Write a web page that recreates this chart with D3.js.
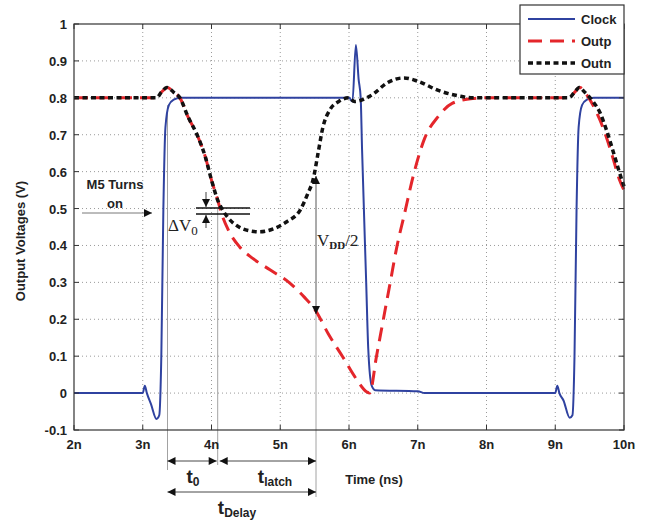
<!DOCTYPE html>
<html>
<head>
<meta charset="utf-8">
<script src="https://cdn.jsdelivr.net/npm/d3@7"></script>
<style>
  body { margin: 0; background: #fff; }
  svg { display: block; font-family: "Liberation Sans", Arial, sans-serif; }
  .grid line { stroke: #9a9a9a; stroke-dasharray: 1,3; }
  .tick-lbl { font-size: 13px; font-weight: bold; fill: #222; }
</style>
</head>
<body>
<svg id="chart" width="664" height="521"></svg>
<script>
// time in ns, voltage in V
var clockT = [2, 3.0, 3.03, 3.06, 3.12, 3.2, 3.24, 3.27, 3.3, 3.33, 3.38, 3.45, 3.55, 6.0, 6.05, 6.1, 6.14, 6.17, 6.19, 6.25, 6.28, 6.33, 6.38, 7.0, 7.1, 9.0, 9.03, 9.06, 9.12, 9.21, 9.25, 9.28, 9.31, 9.34, 9.39, 9.46, 9.56, 10];
var clockV = [0, 0, 0.02, 0.0, -0.03, -0.07, -0.06, 0.1, 0.5, 0.72, 0.78, 0.795, 0.8, 0.8, 0.79, 0.943, 0.85, 0.8, 0.66, 0.3, 0.12, 0.02, 0.008, 0.005, 0, 0, 0.02, 0.0, -0.02, -0.067, -0.06, 0.1, 0.5, 0.72, 0.78, 0.795, 0.8, 0.8];

var outpT = [2, 3.2, 3.27, 3.36, 3.45, 3.54, 3.66, 3.79, 3.91, 4.0, 4.09, 4.14, 4.25, 4.41, 4.6, 4.85, 5.14, 5.35, 5.51, 5.7, 5.91, 6.1, 6.26, 6.3, 6.4, 6.5, 6.6, 6.7, 6.8, 6.95, 7.1, 7.3, 7.5, 7.8, 8.0, 9.2, 9.28, 9.36, 9.45, 9.55, 9.65, 9.75, 9.85, 9.93, 10];
var outpV = [0.8, 0.8, 0.815, 0.828, 0.815, 0.8, 0.748, 0.7, 0.64, 0.577, 0.523, 0.49, 0.44, 0.396, 0.365, 0.334, 0.298, 0.26, 0.225, 0.16, 0.098, 0.04, 0.003, 0, 0.1, 0.2, 0.3, 0.4, 0.48, 0.6, 0.69, 0.75, 0.785, 0.798, 0.8, 0.8, 0.815, 0.828, 0.81, 0.78, 0.74, 0.69, 0.63, 0.58, 0.55];

var outnT = [2, 3.2, 3.27, 3.35, 3.45, 3.54, 3.66, 3.79, 3.91, 4.0, 4.09, 4.15, 4.25, 4.4, 4.55, 4.7, 4.9, 5.1, 5.29, 5.4, 5.48, 5.55, 5.62, 5.72, 5.85, 6.0, 6.08, 6.2, 6.35, 6.55, 6.8, 7.0, 7.3, 7.6, 7.8, 9.2, 9.28, 9.35, 9.43, 9.55, 9.65, 9.75, 9.85, 9.93, 10];
var outnV = [0.8, 0.8, 0.815, 0.828, 0.815, 0.8, 0.748, 0.7, 0.64, 0.577, 0.523, 0.5, 0.473, 0.45, 0.44, 0.437, 0.445, 0.465, 0.496, 0.54, 0.58, 0.65, 0.72, 0.767, 0.79, 0.8, 0.79, 0.795, 0.81, 0.84, 0.854, 0.845, 0.82, 0.805, 0.8, 0.8, 0.815, 0.828, 0.815, 0.79, 0.76, 0.71, 0.65, 0.6, 0.56];

var xTicks = [2, 3, 4, 5, 6, 7, 8, 9, 10];
var xTickLabels = ["2n", "3n", "4n", "5n", "6n", "7n", "8n", "9n", "10n"];
var yTicks = [-0.1, 0, 0.1, 0.2, 0.3, 0.4, 0.5, 0.6, 0.7, 0.8, 0.9, 1];
var yTickLabels = ["-0.1", "0", "0.1", "0.2", "0.3", "0.4", "0.5", "0.6", "0.7", "0.8", "0.9", "1"];
var legendNames = ["Clock", "Outp", "Outn"];

var L = 74, R = 624, T = 24, B = 430;
var svg = d3.select('#chart');
var x = d3.scaleLinear().domain([2, 10]).range([L, R]);
var y = d3.scaleLinear().domain([-0.1, 1]).range([B, T]);

// grid
var grid = svg.append('g').attr('class', 'grid');
xTicks.slice(1, -1).forEach(function(t) {
  grid.append('line').attr('x1', x(t)).attr('x2', x(t)).attr('y1', T).attr('y2', B);
});
yTicks.slice(1, -1).forEach(function(t) {
  grid.append('line').attr('x1', L).attr('x2', R).attr('y1', y(t)).attr('y2', y(t));
});

// arrow marker
var defs = svg.append('defs');
function marker(id, col) {
  defs.append('marker').attr('id', id).attr('viewBox', '0 0 10 10')
    .attr('refX', 10).attr('refY', 5).attr('markerWidth', 10).attr('markerHeight', 8)
    .attr('markerUnits', 'userSpaceOnUse').attr('orient', 'auto-start-reverse')
    .append('path').attr('d', 'M0,0L10,5L0,10z').attr('fill', col);
}
marker('arr', '#111');

// thin guide lines
var guideC = '#8a8a8a';
svg.append('line').attr('x1', x(3.36)).attr('x2', x(3.36)).attr('y1', y(0.78)).attr('y2', 470).attr('stroke', guideC).attr('stroke-width', 0.8);
svg.append('line').attr('x1', x(4.09)).attr('x2', x(4.09)).attr('y1', y(0.5)).attr('y2', 465).attr('stroke', guideC).attr('stroke-width', 0.8);
svg.append('line').attr('x1', x(5.52)).attr('x2', x(5.52)).attr('y1', y(0.22)).attr('y2', 497).attr('stroke', guideC).attr('stroke-width', 0.8);

// curves
var line = d3.line().x(function(d) { return x(d[0]); }).y(function(d) { return y(d[1]); }).curve(d3.curveMonotoneX);
function zip(a, b) { return a.map(function(v, i) { return [v, b[i]]; }); }

svg.append('path').datum(zip(clockT, clockV)).attr('d', line)
  .attr('fill', 'none').attr('stroke', '#2f42a0').attr('stroke-width', 2);
svg.append('path').datum(zip(outpT, outpV)).attr('d', line)
  .attr('fill', 'none').attr('stroke', '#e4262b').attr('stroke-width', 3).attr('stroke-dasharray', '14,8');
svg.append('path').datum(zip(outnT, outnV)).attr('d', line)
  .attr('fill', 'none').attr('stroke', '#111').attr('stroke-width', 3.5).attr('stroke-dasharray', '5,3.5');

// box + inward ticks
svg.append('rect').attr('x', L).attr('y', T).attr('width', R - L).attr('height', B - T)
  .attr('fill', 'none').attr('stroke', '#333').attr('stroke-width', 1.2);
var tk = svg.append('g').attr('stroke', '#333').attr('stroke-width', 1);
xTicks.forEach(function(t) {
  tk.append('line').attr('x1', x(t)).attr('x2', x(t)).attr('y1', B).attr('y2', B - 5);
  tk.append('line').attr('x1', x(t)).attr('x2', x(t)).attr('y1', T).attr('y2', T + 5);
});
yTicks.forEach(function(t) {
  tk.append('line').attr('x1', L).attr('x2', L + 5).attr('y1', y(t)).attr('y2', y(t));
  tk.append('line').attr('x1', R).attr('x2', R - 5).attr('y1', y(t)).attr('y2', y(t));
});

// tick labels
svg.selectAll('.xl').data(xTicks).enter().append('text').attr('class', 'tick-lbl')
  .attr('x', function(d) { return x(d); }).attr('y', 449).attr('text-anchor', 'middle')
  .text(function(d, i) { return xTickLabels[i]; });
svg.selectAll('.yl').data(yTicks).enter().append('text').attr('class', 'tick-lbl')
  .attr('x', 67).attr('y', function(d) { return y(d) + 5; }).attr('text-anchor', 'end')
  .text(function(d, i) { return yTickLabels[i]; });

svg.append('text').attr('transform', 'translate(25,241)rotate(-90)').attr('text-anchor', 'middle')
  .attr('class', 'tick-lbl').text('Output Voltages (V)');

// legend
var lg = svg.append('g');
lg.append('rect').attr('x', 520).attr('y', 5).attr('width', 104).attr('height', 69)
  .attr('fill', '#fff').attr('stroke', '#333').attr('stroke-width', 1.2);
var lgStyle = [
  {c: '#2f42a0', w: 2, d: null},
  {c: '#e4262b', w: 3, d: '14,8'},
  {c: '#111', w: 3.5, d: '5,3.5'}
];
legendNames.forEach(function(n, i) {
  var ly = 19 + i * 22;
  lg.append('line').attr('x1', 528).attr('x2', 575).attr('y1', ly).attr('y2', ly)
    .attr('stroke', lgStyle[i].c).attr('stroke-width', lgStyle[i].w).attr('stroke-dasharray', lgStyle[i].d);
  lg.append('text').attr('class', 'tick-lbl').attr('x', 581).attr('y', ly + 5).text(n);
});

// annotations: M5 turns on
svg.append('text').attr('class', 'tick-lbl').attr('x', 115).attr('y', 189).attr('text-anchor', 'middle').text('M5 Turns');
svg.append('text').attr('class', 'tick-lbl').attr('x', 115).attr('y', 208).attr('text-anchor', 'middle').text('on');
svg.append('line').attr('x1', 82).attr('x2', 152).attr('y1', 213).attr('y2', 213)
  .attr('stroke', '#555').attr('stroke-width', 0.8).attr('marker-end', 'url(#arr)');

// delta V0
svg.append('line').attr('x1', 196).attr('x2', 250).attr('y1', 208).attr('y2', 208).attr('stroke', '#111').attr('stroke-width', 1.3);
svg.append('line').attr('x1', 196).attr('x2', 250).attr('y1', 214).attr('y2', 214).attr('stroke', '#111').attr('stroke-width', 1.3);
svg.append('line').attr('x1', 206).attr('x2', 206).attr('y1', 192).attr('y2', 207).attr('stroke', '#111').attr('stroke-width', 0.8).attr('marker-end', 'url(#arr)');
svg.append('line').attr('x1', 206).attr('x2', 206).attr('y1', 228).attr('y2', 215).attr('stroke', '#111').attr('stroke-width', 0.8).attr('marker-end', 'url(#arr)');
var dv = svg.append('text').attr('x', 168).attr('y', 231).attr('font-family', '"Liberation Serif", "Times New Roman", serif')
  .attr('font-size', 17).attr('fill', '#222');
dv.append('tspan').text('\u0394V');
dv.append('tspan').attr('font-size', 13).attr('dy', 4).text('0');

// VDD/2
svg.append('line').attr('x1', x(5.52)).attr('x2', x(5.52)).attr('y1', 176).attr('y2', 314)
  .attr('stroke', '#444').attr('stroke-width', 0.9).attr('marker-start', 'url(#arr)').attr('marker-end', 'url(#arr)');
var vd = svg.append('text').attr('x', 317).attr('y', 246).attr('font-family', '"Liberation Serif", "Times New Roman", serif')
  .attr('font-size', 17).attr('fill', '#222');
vd.append('tspan').text('V');
vd.append('tspan').attr('font-size', 11).attr('font-weight', 'bold').attr('dy', 3).text('DD');
vd.append('tspan').attr('dy', -3).text('/2');

// bottom timing arrows
function harrow(x1, x2, yy) {
  svg.append('line').attr('x1', x1).attr('x2', x2).attr('y1', yy).attr('y2', yy)
    .attr('stroke', '#333').attr('stroke-width', 0.9)
    .attr('marker-start', 'url(#arr)').attr('marker-end', 'url(#arr)');
}
harrow(x(3.36), x(4.09) - 1, 461);
harrow(x(4.09) + 2, x(5.52), 461);
harrow(x(3.36), x(5.52), 492);

function tlabel(cx, yy, sub) {
  var t = svg.append('text').attr('x', cx).attr('y', yy).attr('text-anchor', 'middle')
    .attr('font-weight', 'bold').attr('fill', '#222').attr('font-size', 19);
  t.append('tspan').text('t');
  t.append('tspan').attr('font-size', 12).attr('dy', 3).text(sub);
}
tlabel(193, 483, '0');
tlabel(275, 483, 'latch');
tlabel(237, 514, 'Delay');

svg.append('text').attr('class', 'tick-lbl').attr('x', 374).attr('y', 484).attr('text-anchor', 'middle')
  .attr('font-size', 14).text('Time (ns)');
</script>
</body>
</html>
